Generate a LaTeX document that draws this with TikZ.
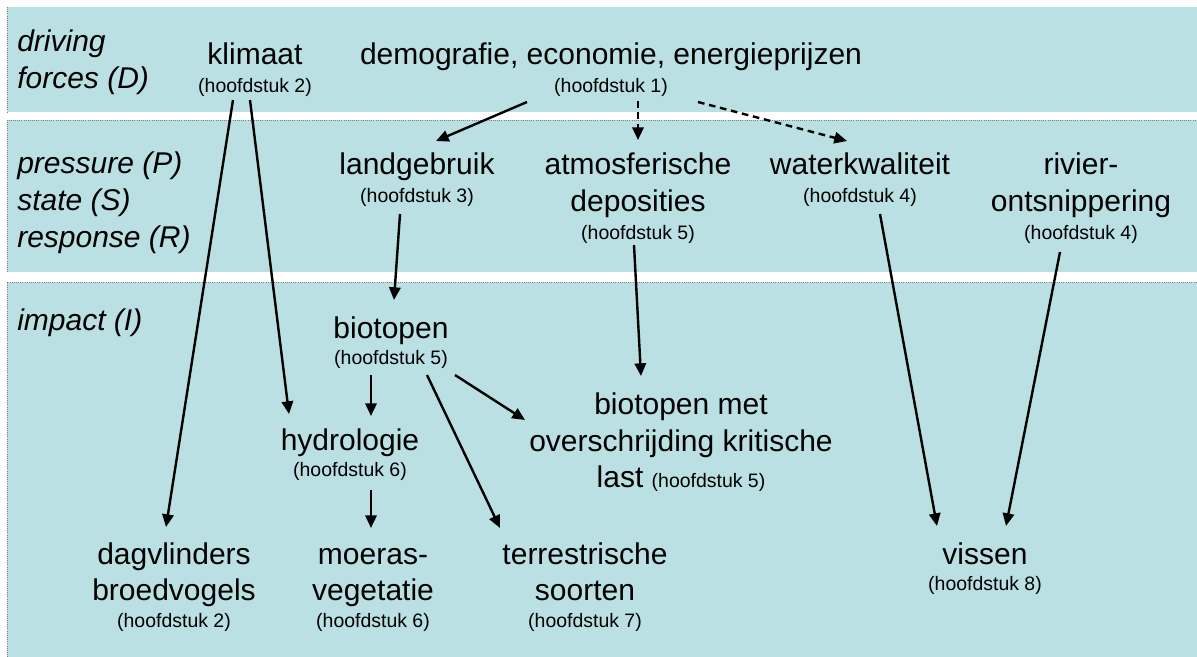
\documentclass[tikz,border=0pt]{standalone}
\usepackage{fontspec}
\setmainfont{Liberation Sans}
\usetikzlibrary{arrows.meta,calc}
\definecolor{bandfill}{RGB}{186,224,227}
\newcommand\mainsz{\fontsize{22.5pt}{27pt}\selectfont}
\newcommand\subsz{\fontsize{14.6pt}{17pt}\selectfont}
\begin{document}
\begin{tikzpicture}[x=0.75pt,y=-0.75pt,
  band/.style={fill=bandfill,draw=none},
  bandedge/.style={draw=gray,densely dotted,line width=0.6pt},
  txt/.style={font=\mainsz,inner sep=0pt,anchor=base},
  sub/.style={font=\subsz,inner sep=0pt,anchor=base},
  lbl/.style={font=\mainsz\itshape,inner sep=0pt,anchor=base west},
  link/.style={line width=1.8pt,-{Triangle[length=9.5pt,width=8.5pt]}},
  dlink/.style={link,dash pattern=on 5pt off 3.5pt}]
\useasboundingbox (0,0) rectangle (1197,657);

% three horizontal bands
\fill[band] (7,7) rectangle (1197,112);
\fill[band] (7,120) rectangle (1197,272);
\fill[band] (7,282) rectangle (1197,657);
\draw[bandedge] (7,7) -- (7,112);
\draw[bandedge] (7,272) -- (7,120) -- (1197,120);
\draw[bandedge] (7,657) -- (7,282) -- (1197,282);

% band labels
\node[lbl] (lblD1) at (17,51) {driving};
\node[lbl] (lblD2) at (17,88) {forces (D)};
\node[lbl] (lblP) at (17,173) {pressure (P)};
\node[lbl] (lblS) at (17,210) {state (S)};
\node[lbl] (lblR) at (17,247) {response (R)};
\node[lbl] (lblI) at (17,330) {impact (I)};

% driving forces
\node[txt] (klim) at (255,64) {klimaat};
\node[sub] (klimH) at (255,92) {(hoofdstuk 2)};
\node[txt] (demo) at (611,64) {demografie, economie, energieprijzen};
\node[sub] (demoH) at (611,92) {(hoofdstuk 1)};

% pressure / state / response
\node[txt] (land) at (417,174) {landgebruik};
\node[sub] (landH) at (417,202) {(hoofdstuk 3)};
\node[txt] (atm1) at (638,174) {atmosferische};
\node[txt] (atm2) at (638,211) {deposities};
\node[sub] (atmH) at (638,239) {(hoofdstuk 5)};
\node[txt] (wat) at (860,174) {waterkwaliteit};
\node[sub] (watH) at (860,202) {(hoofdstuk 4)};
\node[txt] (riv1) at (1081,174) {rivier-};
\node[txt] (riv2) at (1081,211) {ontsnippering};
\node[sub] (rivH) at (1081,239) {(hoofdstuk 4)};

% impact
\node[txt] (bio) at (391,338) {biotopen};
\node[sub] (bioH) at (391,364) {(hoofdstuk 5)};
\node[txt] (hyd) at (350,450) {hydrologie};
\node[sub] (hydH) at (350,476) {(hoofdstuk 6)};
\node[txt] (krit1) at (681,414) {biotopen met};
\node[txt] (krit2) at (681,451) {overschrijding kritische};
\node[txt] (krit3) at (681,487) {last {\subsz (hoofdstuk 5)}};
\node[txt] (dag1) at (174,564) {dagvlinders};
\node[txt] (dag2) at (174,600) {broedvogels};
\node[sub] (dagH) at (174,627) {(hoofdstuk 2)};
\node[txt] (moe1) at (373,564) {moeras-};
\node[txt] (moe2) at (373,600) {vegetatie};
\node[sub] (moeH) at (373,627) {(hoofdstuk 6)};
\node[txt] (ter1) at (585,564) {terrestrische};
\node[txt] (ter2) at (585,600) {soorten};
\node[sub] (terH) at (585,627) {(hoofdstuk 7)};
\node[txt] (vis) at (985,564) {vissen};
\node[sub] (visH) at (985,590) {(hoofdstuk 8)};

% connectors
\draw[link] ($(klimH.base)+(-22,8)$) -- ($(dag1.base)+(-8,-37)$);
\draw[link] ($(klimH.base)+(-5,8)$) -- ($(hyd.base)+(-61,-36)$);
\draw[link] ($(demoH.base)+(-84,10)$) -- ($(land.base)+(19,-33)$);
\draw[dlink] ($(demoH.base)+(27,9)$) -- ($(atm1.base)+(0,-34)$);
\draw[dlink] ($(demoH.base)+(87,10)$) -- ($(wat.base)+(-13,-33)$);
\draw[link] ($(landH.base)+(-17,12)$) -- ($(bio.base)+(3,-38)$);
\draw[link] ($(atmH.base)+(-4,6)$) -- ($(krit1.base)+(-40,-38)$);
\draw[link] ($(watH.base)+(20,12)$) -- ($(vis.base)+(-48,-38)$);
\draw[link] ($(rivH.base)+(-21,13)$) -- ($(vis.base)+(21,-38)$);
\draw[link] ($(bioH.base)+(-20,11)$) -- ($(hyd.base)+(21,-34)$);
\draw[link] ($(bioH.base)+(36,11)$) -- ($(ter1.base)+(-85,-36)$);
\draw[link] ($(bioH.base)+(64,11)$) -- ($(krit1.base)+(-156,6)$);
\draw[link] ($(hydH.base)+(21,14)$) -- ($(moe1.base)+(-2,-36)$);
\end{tikzpicture}
\end{document}
